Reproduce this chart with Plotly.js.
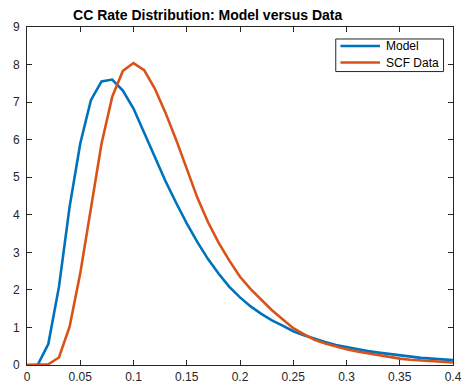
<!DOCTYPE html>
<html>
<head>
<meta charset="utf-8">
<script src="https://cdn.plot.ly/plotly-3.0.1.min.js"></script>
<style>html,body{margin:0;padding:0;background:#fff;}#chart{width:462px;height:383px;}</style>
</head>
<body>
<div id="chart"></div>
<script>
var rates = [0.00,0.01,0.02,0.03,0.04,0.05,0.06,0.07,0.08,0.09,0.10,0.11,0.12,0.13,0.14,0.15,0.16,0.17,0.18,0.19,0.20,0.21,0.22,0.23,0.24,0.25,0.26,0.27,0.28,0.29,0.30,0.31,0.32,0.33,0.34,0.35,0.36,0.37,0.38,0.39,0.40];
var modelDensity = [0,0,0.56,2.08,4.21,5.90,7.05,7.55,7.60,7.31,6.83,6.20,5.54,4.90,4.32,3.77,3.27,2.82,2.43,2.08,1.80,1.56,1.36,1.19,1.05,0.90,0.79,0.69,0.61,0.53,0.47,0.42,0.37,0.33,0.29,0.25,0.22,0.19,0.17,0.15,0.13];
var scfDensity = [0,0,0.02,0.20,1.02,2.44,4.21,5.90,7.14,7.83,8.04,7.85,7.36,6.72,6.00,5.20,4.45,3.80,3.25,2.78,2.35,2.02,1.74,1.46,1.22,0.98,0.82,0.67,0.57,0.49,0.42,0.36,0.31,0.25,0.21,0.17,0.14,0.12,0.10,0.08,0.065];
var seriesNames = ["Model","SCF Data"];
var seriesColors = ["#0072BD","#D95319"];
var chartTitle = "CC Rate Distribution: Model versus Data";

var axisCol = "#262626";
var fam = "Liberation Sans, Arial, Helvetica, sans-serif";
var font = {family: fam, size: 12, color: axisCol};

var data = [
  {x: rates, y: modelDensity, name: seriesNames[0], type: "scatter", mode: "lines",
   line: {color: seriesColors[0], width: 2.6}},
  {x: rates, y: scfDensity, name: seriesNames[1], type: "scatter", mode: "lines",
   line: {color: seriesColors[1], width: 2.6}}
];

// legend box (MATLAB style) built in paper coordinates
var legY = [0.9438, 0.8948];
var shapes = [
  {type: "rect", xref: "paper", yref: "paper", x0: 0.7248, x1: 0.9778, y0: 0.8682, y1: 0.9645,
   line: {color: axisCol, width: 1}, fillcolor: "#fff", layer: "above"}
];
var annotations = [];
for (var i = 0; i < seriesNames.length; i++) {
  shapes.push({type: "line", xref: "paper", yref: "paper", x0: 0.7358, x1: 0.8286,
               y0: legY[i], y1: legY[i], line: {color: seriesColors[i], width: 2.6}, layer: "above"});
  annotations.push({text: seriesNames[i], xref: "paper", yref: "paper", x: 0.8372, y: legY[i],
                    xanchor: "left", yanchor: "middle", showarrow: false,
                    font: {family: fam, size: 12, color: "#000"}});
}

var layout = {
  width: 462, height: 383,
  margin: {l: 26.5, r: 8.5, t: 26.7, b: 18, pad: 0},
  paper_bgcolor: "#fff", plot_bgcolor: "#fff",
  font: font,
  title: {text: "<b>" + chartTitle + "</b>", x: 0.1082, xref: "paper", xanchor: "left",
          y: 0.9616, yref: "container", yanchor: "middle",
          font: {family: fam, size: 14, color: "#000"}},
  xaxis: {range: [0, 0.4], dtick: 0.05, tick0: 0, showgrid: false, zeroline: false,
          showline: true, mirror: "ticks", linecolor: axisCol, linewidth: 1,
          ticks: "inside", ticklen: 5, tickcolor: axisCol, tickwidth: 1,
          tickfont: font, ticklabelstandoff: 1},
  yaxis: {range: [0, 9], dtick: 1, tick0: 0, showgrid: false, zeroline: false,
          showline: true, mirror: "ticks", linecolor: axisCol, linewidth: 1,
          ticks: "inside", ticklen: 5, tickcolor: axisCol, tickwidth: 1,
          tickfont: font, ticklabelstandoff: 4},
  showlegend: false,
  shapes: shapes,
  annotations: annotations
};

Plotly.newPlot("chart", data, layout, {staticPlot: true, displayModeBar: false});
</script>
</body>
</html>
